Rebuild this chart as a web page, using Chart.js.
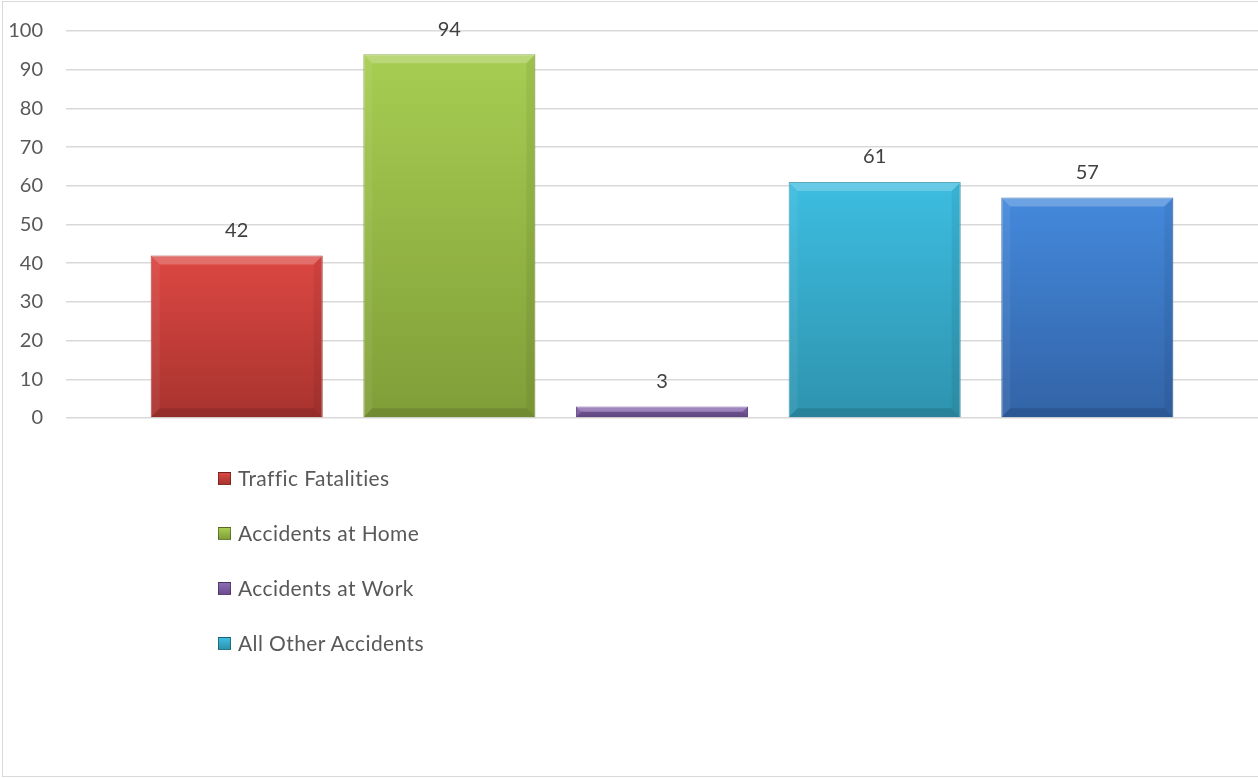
<!DOCTYPE html>
<html>
<head>
<meta charset="utf-8">
<script src="https://cdn.jsdelivr.net/npm/chart.js@4.4.1/dist/chart.umd.min.js"></script>
<style>
  html, body { margin: 0; padding: 0; background: #fff; overflow: hidden; }
  .frame { position: absolute; left: 2px; top: 1px; width: 1300px; height: 774px; border: 1px solid #d9d9d9; }
  .wrap { position: absolute; left: 0; top: 0; width: 1258px; height: 778px; }
  .legend { position: absolute; left: 218px; top: 466px; font-family: Lato, sans-serif; font-size: 21px; letter-spacing: 0.4px; color: #595959; }
  .legend .item { height: 55px; line-height: 24px; display: flex; align-items: flex-start; }
  .legend .swatch { width: 11px; height: 11px; margin: 6px 7px 0 0; border: 1px solid rgba(0,0,0,0.35); }
</style>
</head>
<body>
<div class="frame"></div>
<div class="wrap"><canvas id="chart" width="1258" height="778"></canvas></div>
<div class="legend" id="legend"></div>
<script>
const seriesNames = ['Traffic Fatalities', 'Accidents at Home', 'Accidents at Work', 'All Other Accidents', ''];
const seriesValues = [42, 94, 3, 61, 57];
const topColors = ['#dc4742', '#a7cd52', '#8c6bb3', '#3dbde0', '#4489dc'];
const bottomColors = ['#a8332f', '#809e38', '#6a4d8f', '#2e93ae', '#3263a6'];
const yTicks = [0, 10, 20, 30, 40, 50, 60, 70, 80, 90, 100];

const ctx = document.getElementById('chart');

function gradientFor(i) {
  return (c) => {
    const area = c.chart.chartArea;
    const y = c.chart.scales.y;
    if (!area || !y) return topColors[i];
    const top = y.getPixelForValue(seriesValues[i]);
    if (!isFinite(top) || !isFinite(area.bottom)) return topColors[i];
    const g = c.chart.ctx.createLinearGradient(0, top, 0, area.bottom);
    g.addColorStop(0, topColors[i]);
    g.addColorStop(1, bottomColors[i]);
    return g;
  };
}

// bevel edges + value labels
const bevelPlugin = {
  id: 'bevel',
  afterDatasetsDraw(chart) {
    const c = chart.ctx;
    chart.data.datasets.forEach((ds, i) => {
      const el = chart.getDatasetMeta(i).data[0];
      if (!el) return;
      const l = el.x - el.width / 2, r = el.x + el.width / 2, t = el.y, b = el.base;
      const s = Math.min(9, (b - t) / 2);
      c.save();
      c.fillStyle = 'rgba(255,255,255,0.22)';
      c.beginPath(); c.moveTo(l, t); c.lineTo(r, t); c.lineTo(r - s, t + s); c.lineTo(l + s, t + s); c.fill();
      c.fillStyle = 'rgba(255,255,255,0.06)';
      c.beginPath(); c.moveTo(l, t); c.lineTo(l + s, t + s); c.lineTo(l + s, b - s); c.lineTo(l, b); c.fill();
      c.fillStyle = 'rgba(0,0,0,0.06)';
      c.beginPath(); c.moveTo(r, t); c.lineTo(r - s, t + s); c.lineTo(r - s, b - s); c.lineTo(r, b); c.fill();
      c.fillStyle = 'rgba(0,0,0,0.12)';
      c.beginPath(); c.moveTo(l, b); c.lineTo(r, b); c.lineTo(r - s, b - s); c.lineTo(l + s, b - s); c.fill();
      c.fillStyle = '#404040';
      c.font = '20px Lato, sans-serif';
      c.textAlign = 'center';
      c.textBaseline = 'middle';
      c.fillText(String(ds.data[0]), el.x, t - 25);
      c.restore();
    });
  }
};

new Chart(ctx, {
  type: 'bar',
  data: {
    labels: [''],
    datasets: seriesNames.map((name, i) => ({
      label: name,
      data: [seriesValues[i]],
      backgroundColor: gradientFor(i),
      borderColor: bottomColors[i],
      borderWidth: 1,
      categoryPercentage: 0.892,
      barPercentage: 0.809
    }))
  },
  options: {
    responsive: false,
    animation: false,
    layout: { padding: { top: 31, bottom: 360, left: 0, right: 0 } },
    plugins: {
      legend: { display: false },
      tooltip: { enabled: false }
    },
    scales: {
      x: { display: false },
      y: {
        min: 0,
        max: 100,
        afterBuildTicks: (scale) => { scale.ticks = yTicks.map((v) => ({ value: v })); },
        afterFit: (scale) => { scale.width = 66; scale.paddingTop = 0; scale.paddingBottom = 0; },
        border: { display: false },
        grid: { color: '#d9d9d9', lineWidth: 1.5, drawTicks: false },
        ticks: {
          padding: 23,
          color: '#595959',
          font: { family: 'Lato', size: 20 }
        }
      }
    }
  },
  plugins: [bevelPlugin]
});

const legend = document.getElementById('legend');
seriesNames.slice(0, 4).forEach((name, i) => {
  const item = document.createElement('div');
  item.className = 'item';
  const sw = document.createElement('span');
  sw.className = 'swatch';
  sw.style.background = 'linear-gradient(' + topColors[i] + ', ' + bottomColors[i] + ')';
  const txt = document.createElement('span');
  txt.textContent = name;
  item.appendChild(sw);
  item.appendChild(txt);
  legend.appendChild(item);
});
</script>
</body>
</html>
